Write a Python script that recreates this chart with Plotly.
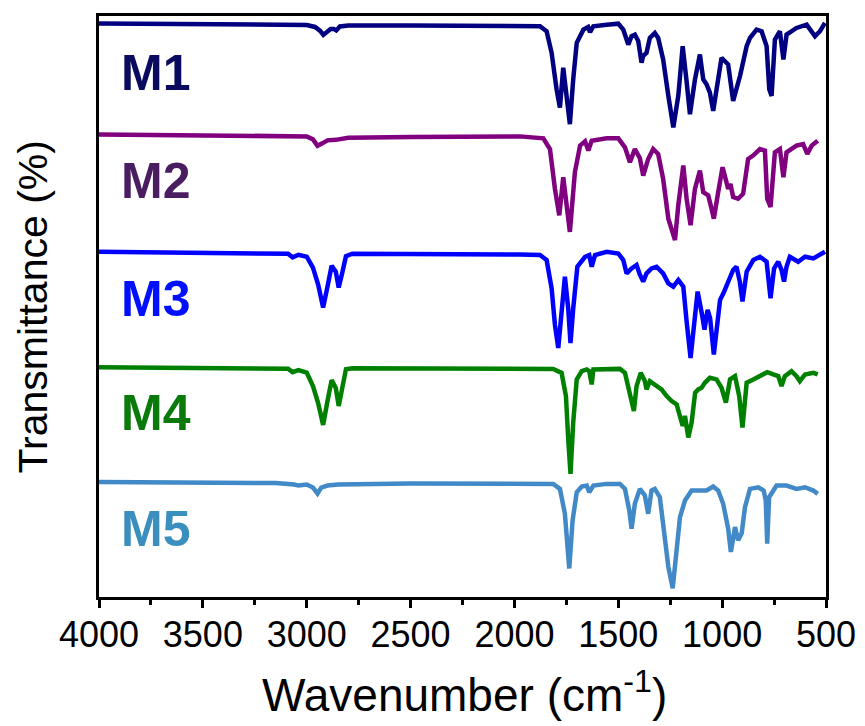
import plotly.graph_objects as go

# Wavenumbers (cm-1) and transmittance (a.u., stacked with offsets)
m1_wn = [4000, 3500, 3100, 3000, 2960, 2935, 2920, 2905, 2885, 2870, 2858, 2840, 2800, 2500, 2200, 1973, 1877, 1845, 1821, 1797, 1781, 1765, 1750, 1733, 1717, 1700, 1668, 1645, 1636, 1620, 1556, 1500, 1476, 1452, 1436, 1420, 1404, 1388, 1380, 1364, 1348, 1324, 1308, 1284, 1259, 1235, 1211, 1190, 1172, 1155, 1131, 1107, 1091, 1075, 1059, 1043, 1027, 1003, 971, 947, 914, 882, 866, 834, 810, 786, 773, 762, 746, 722, 705, 690, 642, 593, 553, 529, 505]
m1_t = [576.5, 576, 575.5, 575, 573, 569, 565, 568, 571, 571, 569.5, 573.5, 574.5, 574.5, 574.5, 574.3, 573.7, 568.7, 547, 510.3, 492, 532, 509, 475.3, 520.3, 557, 570.3, 573, 567.7, 573.7, 575.3, 576.3, 570.3, 555.3, 563.7, 565.3, 559, 537, 544, 547, 562, 567, 562, 540.3, 503.7, 472, 504, 553.7, 520, 485.3, 520, 545.3, 520.3, 515.3, 507, 488.7, 510, 542, 535.3, 498.7, 523.7, 553.7, 562, 570.3, 568.7, 553.7, 510.3, 503.7, 560.3, 568.7, 540.3, 565.3, 572, 575.3, 563.7, 568.7, 577]

m2_wn = [4000, 3500, 3100, 3000, 2970, 2948, 2925, 2900, 2860, 2800, 2500, 2200, 1973, 1861, 1829, 1805, 1784, 1765, 1750, 1733, 1709, 1684, 1660, 1644, 1628, 1556, 1500, 1468, 1444, 1420, 1396, 1380, 1356, 1332, 1308, 1284, 1259, 1243, 1227, 1211, 1187, 1171, 1152, 1131, 1107, 1091, 1067, 1051, 1040, 1019, 998, 971, 960, 947, 923, 899, 875, 851, 818, 794, 783, 767, 746, 722, 705, 690, 642, 610, 590, 569, 540]
m2_t = [465, 464, 463.5, 463, 460, 453.5, 456, 459, 459.5, 461.5, 462.5, 463, 463, 461, 450.3, 410.3, 383.7, 422, 397, 367, 427, 453.7, 458, 448.7, 458.7, 461, 461, 452, 437, 450.3, 441, 423.7, 440.3, 450.3, 445.3, 420.3, 380.3, 370.3, 358.7, 394, 433.7, 400.3, 373.7, 410.3, 428.7, 407, 403.7, 390.3, 380.3, 407, 432, 410.3, 415.3, 402, 400.3, 405.3, 440.3, 443.7, 450.3, 448.7, 400.3, 392, 447, 450.3, 422, 447, 453.7, 455.3, 445.3, 453.7, 458.7]

m3_wn = [4000, 3500, 3150, 3090, 3068, 3040, 3000, 2970, 2945, 2921, 2900, 2880, 2860, 2846, 2830, 2811, 2780, 2500, 2200, 1973, 1877, 1845, 1821, 1805, 1789, 1773, 1757, 1741, 1730, 1717, 1697, 1660, 1640, 1628, 1612, 1556, 1500, 1476, 1460, 1436, 1412, 1396, 1380, 1364, 1340, 1316, 1284, 1259, 1235, 1211, 1187, 1171, 1152, 1135, 1118, 1097, 1085, 1070, 1058, 1040, 1023, 1010, 994, 971, 947, 931, 915, 902, 882, 850, 818, 786, 767, 750, 730, 714, 702, 690, 674, 634, 601, 561, 521, 505]
m3_t = [347, 346, 345.5, 345, 341.4, 344, 342, 331, 314, 291, 312, 333, 327, 311, 325, 342.5, 345, 345, 344.5, 344.3, 343.7, 338.7, 310.3, 273.7, 250.3, 290, 322, 290, 255.3, 290, 332, 342, 343.7, 332, 343.7, 347, 345.3, 338.7, 325.3, 330.3, 333.7, 324, 317, 325.3, 330.3, 332, 325.3, 315.3, 312, 318.7, 312, 277, 240.3, 274, 307, 284, 268.7, 288.7, 280.3, 243.7, 280.3, 298.7, 305.3, 317, 328.7, 332, 317, 297, 327, 338.7, 342, 337, 300.3, 330.3, 337, 328.7, 317, 332, 342, 337, 342, 340.3, 345.3, 347]

m4_wn = [4000, 3500, 3150, 3090, 3068, 3040, 3000, 2970, 2945, 2921, 2900, 2880, 2860, 2846, 2830, 2811, 2780, 2500, 2200, 1973, 1813, 1773, 1752, 1741, 1730, 1717, 1700, 1676, 1652, 1640, 1628, 1620, 1556, 1492, 1468, 1444, 1425, 1412, 1392, 1372, 1364, 1348, 1324, 1292, 1267, 1243, 1219, 1203, 1190, 1179, 1163, 1147, 1130, 1115, 1099, 1083, 1059, 1027, 1003, 982, 962, 938, 918, 902, 882, 850, 818, 783, 754, 730, 714, 698, 666, 642, 626, 601, 561, 540]
m4_t = [231, 230.5, 230, 229.5, 226, 228, 225.5, 212, 195, 173, 197, 218, 210, 192, 209, 229, 230, 230, 229.7, 230.3, 229.3, 225.3, 202, 158.7, 123.7, 175.3, 218.7, 227, 228.7, 227, 213.7, 228.7, 229.3, 229.3, 225.3, 205.3, 187, 212, 225.3, 217, 208.7, 217, 213.7, 208.7, 202, 197, 193.7, 182, 172, 182, 160.3, 175.3, 205.3, 208.7, 210.3, 215.3, 220.3, 218.7, 210.3, 195.3, 218.7, 222, 202, 170.3, 215.3, 218.7, 222, 226, 223.7, 222, 212, 222, 227, 222, 217, 223.7, 225.3, 223.7]

m5_wn = [4000, 3500, 3150, 3060, 3040, 3000, 2970, 2948, 2930, 2900, 2850, 2500, 2200, 1973, 1813, 1781, 1757, 1736, 1720, 1700, 1676, 1652, 1640, 1620, 1556, 1492, 1468, 1447, 1436, 1420, 1396, 1372, 1356, 1340, 1324, 1300, 1280, 1259, 1238, 1220, 1203, 1179, 1147, 1107, 1075, 1043, 1019, 995, 971, 958, 938, 923, 906, 890, 866, 826, 800, 790, 783, 774, 738, 690, 642, 601, 561, 540]
m5_t = [115.5, 115, 114.5, 113, 112, 113, 110, 104, 110, 112, 113, 114, 114, 114.3, 113.7, 108.7, 83.7, 28.7, 77, 105.3, 111, 112, 105.3, 112, 113.7, 113.7, 108.7, 87, 68.7, 94, 108.7, 102, 83.7, 107, 108.7, 100.3, 67, 30.3, 8.7, 44, 80.3, 97, 107, 107, 107, 111, 107, 93.7, 68.7, 45.3, 70.3, 57, 64, 90.3, 108.7, 110.3, 107, 97, 53.7, 100.3, 112, 112, 108.7, 110.3, 107, 103.7]

names = ["M1", "M2", "M3", "M4", "M5"]
line_colors = ["#000080", "#800080", "#0000FF", "#008000", "#4189C7"]
label_colors = ["#0A0A5E", "#4A1D60", "#0010FF", "#0A7A0A", "#3A8FBF"]
label_y = [527, 418, 300, 185, 68]   # label positions in the same a.u. scale

tick_vals = [4000, 3500, 3000, 2500, 2000, 1500, 1000, 500]

series = [(m1_wn, m1_t), (m2_wn, m2_t), (m3_wn, m3_t), (m4_wn, m4_t), (m5_wn, m5_t)]

fig = go.Figure()
for (wn, t), name, col in zip(series, names, line_colors):
    fig.add_trace(go.Scatter(x=wn, y=t, mode="lines", name=name,
                             line=dict(color=col, width=4.5), showlegend=False))

font_fam = "Liberation Sans, Arial, sans-serif"
for name, col, ly in zip(names, label_colors, label_y):
    fig.add_annotation(x=3905, y=ly, xref="x", yref="y", text="<b>%s</b>" % name,
                       showarrow=False, xanchor="left", yanchor="middle",
                       font=dict(family=font_fam, size=50, color=col))

fig.add_annotation(x=-0.0908, y=0.5, xref="paper", yref="paper",
                   text="Transmittance (%)", textangle=-90, showarrow=False,
                   xanchor="center", yanchor="middle",
                   font=dict(family=font_fam, size=41, color="black"))
fig.add_annotation(x=0.503, y=-0.163, xref="paper", yref="paper",
                   text="Wavenumber (cm<sup>-1</sup>)", showarrow=False,
                   xanchor="center", yanchor="middle",
                   font=dict(family=font_fam, size=46, color="black"))

# page body has an 8px default margin, so the figure is drawn 8px smaller
fig.update_layout(
    width=857, height=718,
    margin=dict(l=91, r=39, t=5, b=129),
    plot_bgcolor="white", paper_bgcolor="white",
    font=dict(family=font_fam, color="black"),
)
fig.update_xaxes(range=[4000, 500], tickvals=tick_vals, ticktext=[str(v) for v in tick_vals],
                 ticks="outside", ticklen=8, tickwidth=2.5, tickcolor="black",
                 showline=True, linewidth=3, linecolor="black", mirror=True,
                 showgrid=False, zeroline=False,
                 tickfont=dict(family=font_fam, size=36, color="black"),
                 ticklabelstandoff=-4,
                 minor=dict(dtick=250, tick0=500, ticks="outside", ticklen=5,
                            tickwidth=2.5, tickcolor="black", showgrid=False))
fig.update_yaxes(range=[0, 584], showticklabels=False, ticks="",
                 showline=True, linewidth=3, linecolor="black", mirror=True,
                 showgrid=False, zeroline=False)

fig.write_html("out.html")
